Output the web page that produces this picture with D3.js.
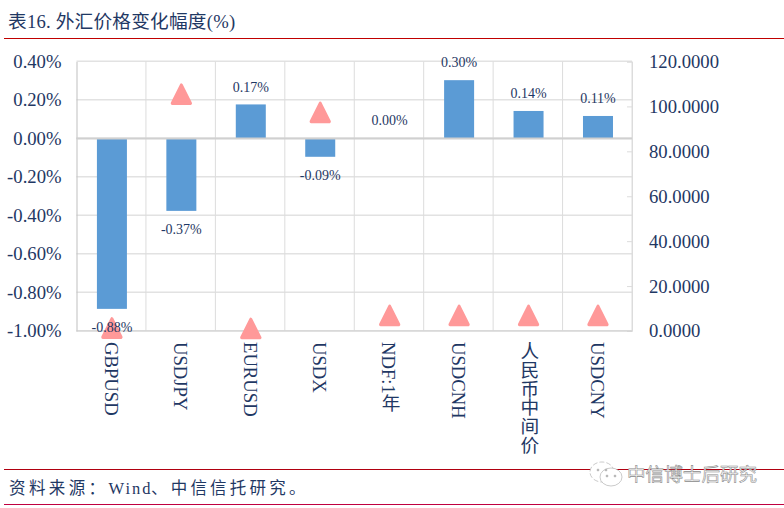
<!DOCTYPE html>
<html>
<head>
<meta charset="utf-8">
<script src="https://cdn.jsdelivr.net/npm/d3@7"></script>
<style>
  html, body { margin: 0; padding: 0; background: #fff; }
  svg { display: block; }
  text { font-family: "Liberation Serif", "Noto Sans CJK SC", serif; fill: #1f3864; }
</style>
</head>
<body>
<svg id="chart"></svg>
<script>
const categories = ['GBPUSD', 'USDJPY', 'EURUSD', 'USDX', 'NDF:1年', 'USDCNH', '人民币中间价', 'USDCNY'];
const changes = [-0.885, -0.376, 0.177, -0.095, 0, 0.303, 0.143, 0.117];
const changeLabels = ['-0.88%', '-0.37%', '0.17%', '-0.09%', '0.00%', '0.30%', '0.14%', '0.11%'];
const prices = [1.3, 105.4, 1.1, 97.3, 6.9, 6.9, 6.9, 6.9];
const leftTicks = [-1, -0.8, -0.6, -0.4, -0.2, 0, 0.2, 0.4];
const rightTicks = [0, 20, 40, 60, 80, 100, 120];

const width = 784, height = 508;
const plot = { left: 76.5, right: 632, top: 61.5, bottom: 331 };
const gridColor = '#dcdcdc';

const svg = d3.select('#chart').attr('width', width).attr('height', height);

const x = d3.scaleBand().domain(categories).range([plot.left, plot.right]);
const yLeft = d3.scaleLinear().domain([-1, 0.4]).range([plot.bottom, plot.top]);
const yRight = d3.scaleLinear().domain([0, 120]).range([plot.bottom, plot.top]);
// marks sit a little right of the band centre in the original
const center = d => x(d) + x.bandwidth() / 2 + 0.7;

// header and footer rules
const rules = [[38.5, '#c00000'], [469.5, '#b00010'], [504.5, '#c00040']];
svg.selectAll('line.rule').data(rules).enter().append('line')
  .attr('class', 'rule')
  .attr('x1', 4).attr('x2', width)
  .attr('y1', d => d[0]).attr('y2', d => d[0])
  .attr('stroke', d => d[1]).attr('stroke-width', 1);

svg.append('text').attr('x', 8).attr('y', 28).attr('font-size', 18.67)
  .attr('letter-spacing', 0.22)
  .text('表16. 外汇价格变化幅度(%)');

// gridlines
svg.append('g').selectAll('line').data(leftTicks).enter().append('line')
  .attr('x1', plot.left).attr('x2', plot.right)
  .attr('y1', d => yLeft(d) - 0.3).attr('y2', d => yLeft(d) - 0.3)
  .attr('stroke', '#e2e2e2').attr('stroke-width', 1.6);
svg.append('g').selectAll('line').data(categories).enter().append('line')
  .attr('x1', d => x(d) + x.bandwidth()).attr('x2', d => x(d) + x.bandwidth())
  .attr('y1', plot.top).attr('y2', plot.bottom)
  .attr('stroke', gridColor).attr('stroke-width', 1);

// bars
svg.append('g').selectAll('rect').data(changes).enter().append('rect')
  .attr('x', (d, i) => center(categories[i]) - 15)
  .attr('width', 30)
  .attr('y', d => yLeft(Math.max(d, 0)))
  .attr('height', d => Math.abs(yLeft(d) - yLeft(0)))
  .attr('fill', '#5b9bd5');

// left axis
const axisLeft = d3.axisLeft(yLeft).tickValues(leftTicks).tickSize(0).tickPadding(15)
  .tickFormat(d => d.toFixed(2) + '%');
const gLeft = svg.append('g').attr('transform', `translate(${plot.left},0)`).call(axisLeft);
gLeft.select('.domain').attr('stroke', '#bfbfbf');
gLeft.selectAll('text').attr('font-size', 18.67).attr('font-family', null);

// right axis
const axisRight = d3.axisRight(yRight).tickValues(rightTicks).tickSize(-5).tickPadding(17)
  .tickFormat(d => d.toFixed(4));
const gRight = svg.append('g').attr('transform', `translate(${plot.right},0)`).call(axisRight);
gRight.select('.domain').attr('stroke', gridColor);
gRight.selectAll('line').attr('stroke', gridColor);
gRight.selectAll('text').attr('font-size', 18.67).attr('font-family', null);

// zero line sits over the bars
svg.append('line')
  .attr('x1', plot.left).attr('x2', plot.right)
  .attr('y1', yLeft(0)).attr('y2', yLeft(0))
  .attr('stroke', '#d0d0d0').attr('stroke-width', 2);
svg.append('line')
  .attr('x1', plot.left).attr('x2', plot.right)
  .attr('y1', plot.bottom).attr('y2', plot.bottom)
  .attr('stroke', '#d0d0d0').attr('stroke-width', 1);

// price markers, right axis
const triangle = d3.symbol().type(d3.symbolTriangle).size(145)();
svg.append('g').selectAll('path').data(prices).enter().append('path')
  .attr('d', triangle)
  .attr('transform', (d, i) => `translate(${center(categories[i])},${yRight(d) + 3}) scale(1,1.15)`)
  .attr('fill', '#ff9999')
  .attr('stroke', '#ff9999')
  .attr('stroke-width', 3)
  .attr('stroke-linejoin', 'round');

// data labels
svg.append('g').selectAll('text').data(changes).enter().append('text')
  .attr('x', (d, i) => center(categories[i]))
  .attr('y', d => d < 0 ? yLeft(d) + 23 : (d === 0 ? yLeft(d) - 14 : yLeft(d) - 12.7))
  .attr('text-anchor', 'middle')
  .attr('font-size', 14)
  .text((d, i) => changeLabels[i]);

// category labels
svg.append('g').selectAll('text').data(categories).enter().append('text')
  .attr('x', d => x(d) + x.bandwidth() / 2)
  .attr('y', 342)
  .attr('font-size', 18.67)
  .style('writing-mode', 'vertical-rl')
  .style('dominant-baseline', 'central')
  .text(d => d);

// source line
const source = svg.append('text').attr('x', 9).attr('y', 494).attr('font-size', 16.5);
source.append('tspan').attr('letter-spacing', 3.4).text('资料来源：');
source.append('tspan').attr('letter-spacing', 2).text('Wind');
source.append('tspan').attr('letter-spacing', 3.2).attr('dx', -1.5).text('、中信信托研究。');

// watermark
const mark = svg.append('g').attr('fill', '#fff').attr('stroke', '#bdbdbd').attr('stroke-width', 0.8);
mark.append('ellipse').attr('cx', 602).attr('cy', 472).attr('rx', 12).attr('ry', 10).attr('stroke-dasharray', '5 2');
mark.append('ellipse').attr('cx', 611).attr('cy', 477).attr('rx', 11).attr('ry', 9);
mark.selectAll('circle').data([[598, 470], [606, 470], [607, 476], [615, 476]]).enter().append('circle')
  .attr('cx', d => d[0]).attr('cy', d => d[1]).attr('r', 1).attr('fill', '#999');
svg.append('text').attr('x', 627).attr('y', 481).attr('font-size', 18.6)
  .attr('font-family', '"Noto Sans CJK SC"')
  .style('fill', '#f6f6f6').style('stroke', '#8a8a8a').style('stroke-width', 0.55)
  .text('中信博士后研究');
</script>
</body>
</html>
